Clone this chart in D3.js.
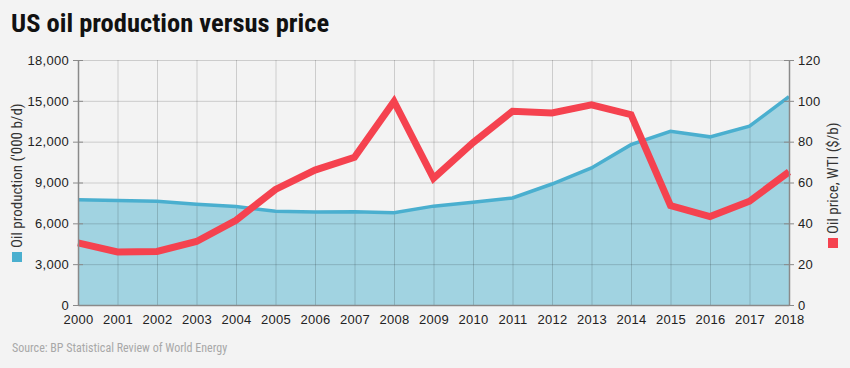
<!DOCTYPE html>
<html>
<head>
<meta charset="utf-8">
<script src="https://cdn.jsdelivr.net/npm/d3@7"></script>
<style>
  body { margin: 0; background: #f3f3f3; }
  svg { display: block; font-family: "Roboto Condensed", "DejaVu Sans Condensed", "Liberation Sans Narrow", sans-serif; }
</style>
</head>
<body>
<div id="chart"></div>
<script>
// US oil production ('000 b/d) and WTI price ($/b), 2000-2018
const years = [2000, 2001, 2002, 2003, 2004, 2005, 2006, 2007, 2008, 2009,
  2010, 2011, 2012, 2013, 2014, 2015, 2016, 2017, 2018];
const production = [7733, 7669, 7626, 7400, 7228, 6895, 6841, 6847, 6784, 7263,
  7552, 7868, 8890, 10071, 11779, 12757, 12354, 13135, 15311];
const wtiPrice = [30.4, 26.0, 26.2, 31.1, 41.5, 56.6, 66.1, 72.3, 99.7, 62.0,
  79.5, 94.9, 94.1, 98.0, 93.2, 48.7, 43.3, 50.8, 65.2];
const leftTicks = [0, 3000, 6000, 9000, 12000, 15000, 18000];
const rightTicks = [0, 20, 40, 60, 80, 100, 120];

const width = 850, height = 368;
const margin = { top: 60, right: 61, bottom: 63, left: 78 };

const svg = d3.select('#chart').append('svg')
  .attr('width', width)
  .attr('height', height);

svg.append('rect').attr('width', width).attr('height', height).attr('fill', '#f3f3f3');

const x = d3.scaleLinear()
  .domain([years[0], years[years.length - 1]])
  .range([margin.left, width - margin.right]);
const yL = d3.scaleLinear().domain([0, 18000]).range([height - margin.bottom, margin.top]);
const yR = d3.scaleLinear().domain([0, 120]).range([height - margin.bottom, margin.top]);

const prodData = years.map((yr, i) => ({ year: yr, v: production[i] }));
const priceData = years.map((yr, i) => ({ year: yr, v: wtiPrice[i] }));

// production area under the grid
svg.append('path')
  .datum(prodData)
  .attr('fill', '#a1d3e1')
  .attr('d', d3.area().x(d => x(d.year)).y0(yL(0)).y1(d => yL(d.v)));

// grid (semi transparent so it shows darker over the fill)
const grid = svg.append('g').attr('stroke', 'rgba(0,0,0,0.16)').attr('stroke-width', 1);
grid.selectAll('line.v').data(years.slice(1, -1)).join('line')
  .attr('x1', d => x(d) + 0.5).attr('x2', d => x(d) + 0.5)
  .attr('y1', yL(18000)).attr('y2', yL(0));
grid.selectAll('line.h').data(leftTicks.slice(1)).join('line')
  .attr('x1', x(years[0])).attr('x2', x(years[years.length - 1]))
  .attr('y1', d => yL(d) + 0.5).attr('y2', d => yL(d) + 0.5);

svg.append('path')
  .datum(prodData)
  .attr('fill', 'none')
  .attr('stroke', '#4aafcf')
  .attr('stroke-width', 3.5)
  .attr('d', d3.line().x(d => x(d.year)).y(d => yL(d.v)));

svg.append('path')
  .datum(priceData)
  .attr('fill', 'none')
  .attr('stroke', '#f5424f')
  .attr('stroke-width', 7)
  .attr('stroke-linejoin', 'miter')
  .attr('d', d3.line().x(d => x(d.year)).y(d => yR(d.v)));

// axes
const axisColor = '#8a8a8a';
const styleAxis = g => {
  g.select('.domain').attr('stroke', axisColor).attr('stroke-width', 1.5);
  g.selectAll('.tick line').attr('stroke', axisColor);
};

svg.append('g')
  .attr('transform', `translate(${x(years[0])},0)`)
  .call(d3.axisLeft(yL).tickValues(leftTicks).tickFormat(d3.format(',')).tickSize(5).tickSizeOuter(0).tickPadding(4))
  .call(styleAxis)
  .call(g => g.selectAll('.tick line').attr('x2', 5).attr('x1', -5));

svg.append('g')
  .attr('transform', `translate(${x(years[years.length - 1])},0)`)
  .call(d3.axisRight(yR).tickValues(rightTicks).tickSize(5).tickSizeOuter(0).tickPadding(4))
  .call(styleAxis)
  .call(g => g.selectAll('.tick line').attr('x1', -5).attr('x2', 5));

svg.append('g')
  .attr('transform', `translate(0,${yL(0)})`)
  .call(d3.axisBottom(x).tickValues(years).tickFormat(d3.format('d')).tickSize(0).tickSizeOuter(0).tickPadding(10))
  .call(styleAxis);

svg.selectAll('.tick text').style('font-size', '13px').style('letter-spacing', '0.3px').attr('fill', '#222');

// axis titles with legend squares
const leftLab = svg.append('g').attr('transform', `translate(17,${yL(0) - 43}) rotate(-90)`);
leftLab.append('rect').attr('x', 0).attr('y', -5).attr('width', 10).attr('height', 10).attr('fill', '#4aafcf');
leftLab.append('text').attr('x', 14).attr('dy', '0.36em')
  .attr('fill', '#333').style('font-size', '15px')
  .text("Oil production ('000 b/d)");

const rightLab = svg.append('g').attr('transform', `translate(833,${yR(0) - 57}) rotate(-90)`);
rightLab.append('rect').attr('x', 0).attr('y', -5).attr('width', 10).attr('height', 10).attr('fill', '#f5424f');
rightLab.append('text').attr('x', 14).attr('dy', '0.36em')
  .attr('fill', '#333').style('font-size', '15px')
  .text('Oil price, WTI ($/b)');

// title and source
svg.append('text')
  .attr('x', 11).attr('y', 32)
  .attr('fill', '#111').style('font-size', '26.5px').style('font-weight', 'bold')
  .text('US oil production versus price');

svg.append('text')
  .attr('x', 12).attr('y', 352)
  .attr('fill', '#a8a8a8').style('font-size', '12px')
  .text('Source: BP Statistical Review of World Energy');
</script>
</body>
</html>
